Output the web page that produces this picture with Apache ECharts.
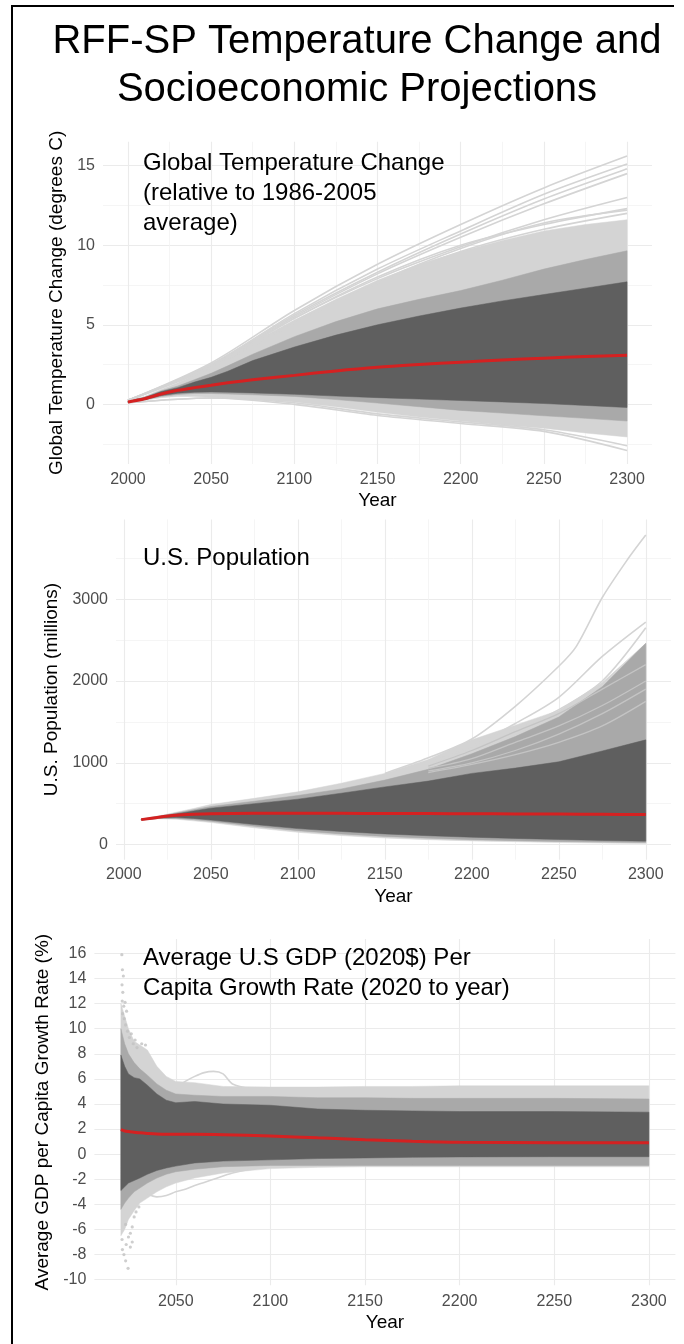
<!DOCTYPE html>
<html><head><meta charset="utf-8">
<script src="https://cdn.jsdelivr.net/npm/echarts@6/dist/echarts.min.js"></script>
<style>html,body{margin:0;padding:0;background:#fff}#c{width:684px;height:1344px}</style>
</head><body><div id="c"></div>
<script>
// ---------- Panel 1: Global temperature change (deg C) ----------
const tYears   = [2000,2010,2020,2030,2040,2050,2060,2075,2100,2125,2150,2175,2200,2225,2250,2275,2300];
const tMedian  = [0.15,0.35,0.65,0.88,1.05,1.2,1.35,1.55,1.82,2.1,2.33,2.5,2.65,2.78,2.9,3.0,3.08];
const tDarkHi  = [0.2,0.42,0.8,1.05,1.4,1.7,2.08,2.75,3.6,4.35,5.0,5.55,6.05,6.5,6.9,7.3,7.7];
const tDarkLo  = [0.12,0.3,0.55,0.7,0.76,0.78,0.76,0.72,0.63,0.52,0.42,0.33,0.24,0.15,0.05,-0.07,-0.2];
const tMidHi   = [0.22,0.45,0.85,1.15,1.55,1.95,2.42,3.15,4.25,5.2,6.0,6.6,7.15,7.8,8.5,9.1,9.65];
const tMidLo   = [0.1,0.28,0.5,0.62,0.68,0.68,0.65,0.6,0.5,0.3,0.08,-0.15,-0.38,-0.55,-0.72,-0.88,-1.05];
const tLightHi = [0.25,0.5,0.95,1.35,1.85,2.35,2.95,3.9,5.3,6.6,7.8,8.8,9.6,10.3,10.9,11.3,11.6];
const tLightLo = [0.08,0.25,0.42,0.5,0.5,0.45,0.38,0.3,0.15,-0.15,-0.5,-0.8,-1.05,-1.3,-1.5,-1.8,-2.05];
const tOutYears = [2000,2050,2100,2150,2200,2250,2300];
const tOutliers = [
  [0.25,2.6,5.9,8.8,11.3,13.6,15.6],
  [0.25,2.5,5.7,8.5,10.9,13.2,15.1],
  [0.25,2.5,5.6,8.3,10.7,12.9,14.8],
  [0.25,2.45,5.5,8.2,10.5,12.6,14.5],
  [0.25,2.4,5.4,7.9,9.9,11.6,13.0],
  [0.25,2.4,5.4,8.0,10.0,11.3,12.3],
  [0.25,2.3,5.1,7.6,9.6,11.0,12.0],
  [0.25,2.35,5.2,7.7,9.8,11.4,12.2],
  [0.1,0.4,0.1,-0.6,-1.1,-1.6,-2.6],
  [0.1,0.4,0.0,-0.7,-1.2,-1.7,-2.9]
];
const tXMajor = [2000,2050,2100,2150,2200,2250,2300];
const tXMinor = [2025,2075,2125,2175,2225,2275];
const tYMajor = [0,5,10,15];
const tYMinor = [-2.5,2.5,7.5,12.5];

// ---------- Panel 2: U.S. population (millions) ----------
const pYears   = [2010,2020,2030,2040,2050,2075,2100,2125,2150,2175,2200,2225,2250,2275,2300];
const pMedian  = [305,335,358,370,377,382,383,382,380,379,377,375,373,370,367];
const pDarkHi  = [310,340,375,410,445,500,555,628,705,776,870,935,1012,1144,1280];
const pDarkLo  = [300,325,330,320,300,245,195,160,130,108,90,75,62,50,42];
const pMidHi   = [312,345,385,425,465,530,600,680,788,920,1110,1320,1560,1930,2460];
const pMidLo   = [298,320,320,305,285,225,170,130,100,78,60,48,38,30,25];
const pLightHi = [315,350,395,440,490,565,645,750,870,1040,1280,1460,1640,1980,2460];
const pLightLo = [295,315,310,290,270,205,150,110,80,60,45,35,25,18,12];
const pOut1Years = [2150,2175,2200,2225,2250,2260,2275,2290,2300];
const pOut1      = [870,1060,1290,1690,2180,2420,3020,3500,3785];
const pOutYears  = [2175,2200,2225,2250,2275,2300];
const pOutliers  = [
  [1000,1200,1480,1800,2300,2720],
  [980,1150,1400,1650,2000,2650]
];
const pInnerLines = [
  [960,1150,1380,1600,1900,2200],
  [930,1050,1250,1450,1700,2000],
  [900,1000,1150,1350,1600,1900],
  [880,980,1100,1250,1450,1750]
];
const pXMajor = [2000,2050,2100,2150,2200,2250,2300];
const pXMinor = [2025,2075,2125,2175,2225,2275];
const pYMajor = [0,1000,2000,3000];
const pYMinor = [500,1500,2500,3500];

// ---------- Panel 3: Average GDP per capita growth rate (%) ----------
const gYears   = [2021,2023,2025,2028,2031,2035,2040,2045,2050,2060,2075,2100,2125,2150,2175,2200,2250,2300];
const gMedian  = [1.95,1.85,1.8,1.75,1.7,1.65,1.6,1.58,1.58,1.58,1.55,1.45,1.3,1.15,1.03,0.95,0.92,0.92];
const gDarkHi  = [7.9,7.0,6.4,6.1,6.0,5.5,4.8,4.3,4.1,4.2,4.0,3.9,3.6,3.5,3.45,3.4,3.4,3.35];
const gDarkLo  = [-2.9,-2.6,-2.3,-2.1,-1.9,-1.6,-1.3,-1.1,-0.95,-0.7,-0.55,-0.45,-0.35,-0.3,-0.25,-0.22,-0.2,-0.2];
const gMidHi   = [10.0,8.8,8.0,7.3,6.8,6.3,5.6,5.1,4.8,4.7,4.6,4.6,4.5,4.5,4.45,4.45,4.45,4.4];
const gMidLo   = [-4.4,-3.9,-3.5,-3.0,-2.7,-2.3,-1.9,-1.6,-1.4,-1.2,-1.0,-0.9,-0.9,-0.9,-0.9,-0.9,-0.9,-0.9];
const gLightHi = [12.0,11.0,10.0,9.0,8.7,8.3,7.0,6.2,5.8,5.7,5.4,5.35,5.35,5.4,5.4,5.45,5.45,5.45];
const gLightLo = [-6.5,-6.0,-5.2,-4.5,-3.9,-3.5,-3.0,-2.6,-2.3,-1.9,-1.5,-1.15,-1.05,-1.0,-1.0,-1.0,-1.0,-1.0];
const gBumpYears = [2050,2055,2060,2065,2070,2075,2080,2090];
const gBump      = [5.3,5.8,6.2,6.5,6.6,6.4,5.6,5.2];
const gDipYears  = [2035,2040,2045,2050,2055,2060,2070,2080,2090];
const gDip       = [-3.2,-3.4,-3.3,-3.0,-2.8,-2.5,-2.0,-1.5,-1.2];
const gDots = [
  [2021.5,15.9],[2021.8,14.7],[2022.3,14.2],[2021.6,13.5],[2022,12.9],[2021.7,12.2],[2022.5,11.8],
  [2021.9,11.2],[2022.8,10.8],[2023.5,10.3],[2024.5,9.8],[2025.5,9.3],[2023.2,12.1],[2024,11.4],
  [2027.5,8.8],[2029.5,8.5],[2032,8.8],[2034,8.7],[2026.5,9.6],[2028.5,9.1],
  [2021.8,-7.6],[2022.6,-8.0],[2023.5,-8.5],[2024.8,-9.1],[2021.6,-6.8],[2023.8,-7.2],[2025,-6.6],
  [2026,-6.3],[2027,-5.8],[2026,-7.4],[2027,-7.0],[2023.5,-5.6],[2028,-5.0],[2029,-4.6],[2030.5,-4.2]
];
const gXMajor = [2050,2100,2150,2200,2250,2300];
const gYMajor = [-10,-8,-6,-4,-2,0,2,4,6,8,10,12,14,16];

// ---------- styling ----------
const C_LIGHT = '#d4d4d4', C_MID = '#a9a9a9', C_DARK = '#5f5f5f', C_RED = '#d42121';
const FONT = 'Liberation Sans, Arial, sans-serif';
const GRID_MAJ = '#ebebeb', GRID_MIN = '#f3f3f3';

function pairs(xs, ys){ return xs.map((x,i)=>[x, ys[i]]); }
function band(gi, xs, lo, hi, color){
  return {type:'custom', xAxisIndex:gi*2, yAxisIndex:gi*2, silent:true, clip:true,
    data: xs.map((x,i)=>[x, lo[i], hi[i]]),
    encode:{x:0, y:[1,2]},
    renderItem:function(params, api){
      if (params.dataIndex !== 0) return null;
      const pts = [];
      for (let i=0;i<xs.length;i++) pts.push(api.coord([xs[i], hi[i]]));
      for (let i=xs.length-1;i>=0;i--) pts.push(api.coord([xs[i], lo[i]]));
      return {type:'polygon', shape:{points:pts}, style:{fill:color, stroke:color, lineWidth:0.5}};
    }};
}
function line(gi, xs, ys, color, width, smooth){
  return {type:'line', xAxisIndex:gi*2, yAxisIndex:gi*2, data:pairs(xs, ys), symbol:'none',
    smooth: smooth===undefined?0.3:smooth, silent:true, lineStyle:{color:color, width:width}};
}

const grids = [
  {left:103, top:141.8, width:549, height:322.2},
  {left:116, top:519.4, width:555, height:340.3},
  {left:94.4, top:939, width:581, height:346.3}
];
const xr = [[1985,2315],[1995.5,2314.5],[2007,2314]];
const yr = [[-3.75,16.5],[-185,3975],[-10.45,17.15]];
const xMaj = [tXMajor,pXMajor,gXMajor], xMin = [tXMinor,pXMinor,[]];
const yMaj = [tYMajor,pYMajor,gYMajor], yMin = [tYMinor,pYMinor,[]];
const yNames = ['Global Temperature Change (degrees C)','U.S. Population (millions)','Average GDP per Capita Growth Rate (%)'];
const yGaps = [29, 49, 39];
const xGaps = [27, 28, 28];
const xLabMargin = [8, 7, 8];
const plain = v => String(v);

const xAxes = [], yAxes = [];
for (let g=0; g<3; g++){
  xAxes.push({type:'value', gridIndex:g, min:xr[g][0], max:xr[g][1],
    name:'Year', nameLocation:'middle', nameGap:xGaps[g],
    nameTextStyle:{fontFamily:FONT, fontSize:19, color:'#000'},
    axisLine:{show:false}, axisTick:{show:false, customValues:xMaj[g]},
    axisLabel:{customValues:xMaj[g], formatter:plain, margin:xLabMargin[g], fontFamily:FONT, fontSize:16, color:'#4d4d4d'},
    splitLine:{show:true, customValues:xMaj[g], lineStyle:{color:GRID_MAJ, width:1.1}}});
  xAxes.push({type:'value', gridIndex:g, min:xr[g][0], max:xr[g][1],
    axisLine:{show:false}, axisTick:{show:false, customValues:xMin[g]},
    axisLabel:{show:false, customValues:xMin[g]},
    splitLine:{show:xMin[g].length>0, customValues:xMin[g], lineStyle:{color:GRID_MIN, width:0.8}}});
  yAxes.push({type:'value', gridIndex:g, min:yr[g][0], max:yr[g][1],
    name:yNames[g], nameLocation:'middle', nameGap:yGaps[g],
    nameTextStyle:{fontFamily:FONT, fontSize:19, color:'#000'},
    axisLine:{show:false}, axisTick:{show:false, customValues:yMaj[g]},
    axisLabel:{customValues:yMaj[g], formatter:plain, margin:8, fontFamily:FONT, fontSize:16, color:'#4d4d4d'},
    splitLine:{show:true, customValues:yMaj[g], lineStyle:{color:GRID_MAJ, width:1.1}}});
  yAxes.push({type:'value', gridIndex:g, min:yr[g][0], max:yr[g][1],
    axisLine:{show:false}, axisTick:{show:false, customValues:yMin[g]},
    axisLabel:{show:false, customValues:yMin[g]},
    splitLine:{show:yMin[g].length>0, customValues:yMin[g], lineStyle:{color:GRID_MIN, width:0.8}}});
}

const series = [];
// Panel 1
series.push(band(0,tYears,tLightLo,tLightHi,C_LIGHT));
tOutliers.forEach(o=>series.push(line(0,tOutYears,o,C_LIGHT,1.6)));
series.push(band(0,tYears,tMidLo,tMidHi,C_MID));
series.push(band(0,tYears,tDarkLo,tDarkHi,C_DARK));
series.push(line(0,tYears,tMedian,C_RED,3));
// Panel 2
series.push(band(1,pYears,pLightLo,pLightHi,C_LIGHT));
series.push(line(1,pOut1Years,pOut1,C_LIGHT,1.6));
pOutliers.forEach(o=>series.push(line(1,pOutYears,o,C_LIGHT,1.6)));
series.push(band(1,pYears,pMidLo,pMidHi,C_MID));
pInnerLines.forEach(o=>series.push(line(1,pOutYears,o,'#c4c4c4',1.3)));
series.push(band(1,pYears,pDarkLo,pDarkHi,C_DARK));
series.push(line(1,pYears,pMedian,C_RED,3));
// Panel 3
series.push(band(2,gYears,gLightLo,gLightHi,C_LIGHT));
series.push(line(2,gBumpYears,gBump,C_LIGHT,1.6));
series.push(line(2,gDipYears,gDip,C_LIGHT,1.6));
series.push({type:'scatter', xAxisIndex:4, yAxisIndex:4, data:gDots, symbolSize:3.2, silent:true,
  itemStyle:{color:'#c2c2c2'}});
series.push(band(2,gYears,gMidLo,gMidHi,C_MID));
series.push(band(2,gYears,gDarkLo,gDarkHi,C_DARK));
series.push(line(2,gYears,gMedian,C_RED,3));

const titleLines = ['RFF-SP Temperature Change and','Socioeconomic Projections'];
const panelTitles = [
  {x:143, y:163, lines:['Global Temperature Change','(relative to 1986-2005','average)']},
  {x:143, y:558, lines:['U.S. Population']},
  {x:143, y:958.5, lines:['Average U.S GDP (2020$) Per','Capita Growth Rate (2020 to year)']}
];
const graphics = [
  {type:'line', shape:{x1:11,y1:6,x2:674,y2:6}, style:{stroke:'#000', lineWidth:2}},
  {type:'line', shape:{x1:12,y1:5,x2:12,y2:1344}, style:{stroke:'#000', lineWidth:2}}
];
titleLines.forEach((t,i)=>graphics.push({type:'text', x:357, y:42+i*48,
  style:{text:t, fill:'#000', font:'40px '+FONT, textAlign:'center', textVerticalAlign:'middle'}}));
panelTitles.forEach(p=>p.lines.forEach((t,i)=>graphics.push({type:'text', x:p.x, y:p.y+i*30, z:50,
  style:{text:t, fill:'#000', font:'24px '+FONT, textAlign:'left', textVerticalAlign:'middle'}})));

const chart = echarts.init(document.getElementById('c'), null, {renderer:'canvas'});
chart.setOption({
  animation:false,
  backgroundColor:'#fff',
  grid:grids,
  xAxis:xAxes,
  yAxis:yAxes,
  series:series,
  graphic:graphics
});
</script></body></html>
